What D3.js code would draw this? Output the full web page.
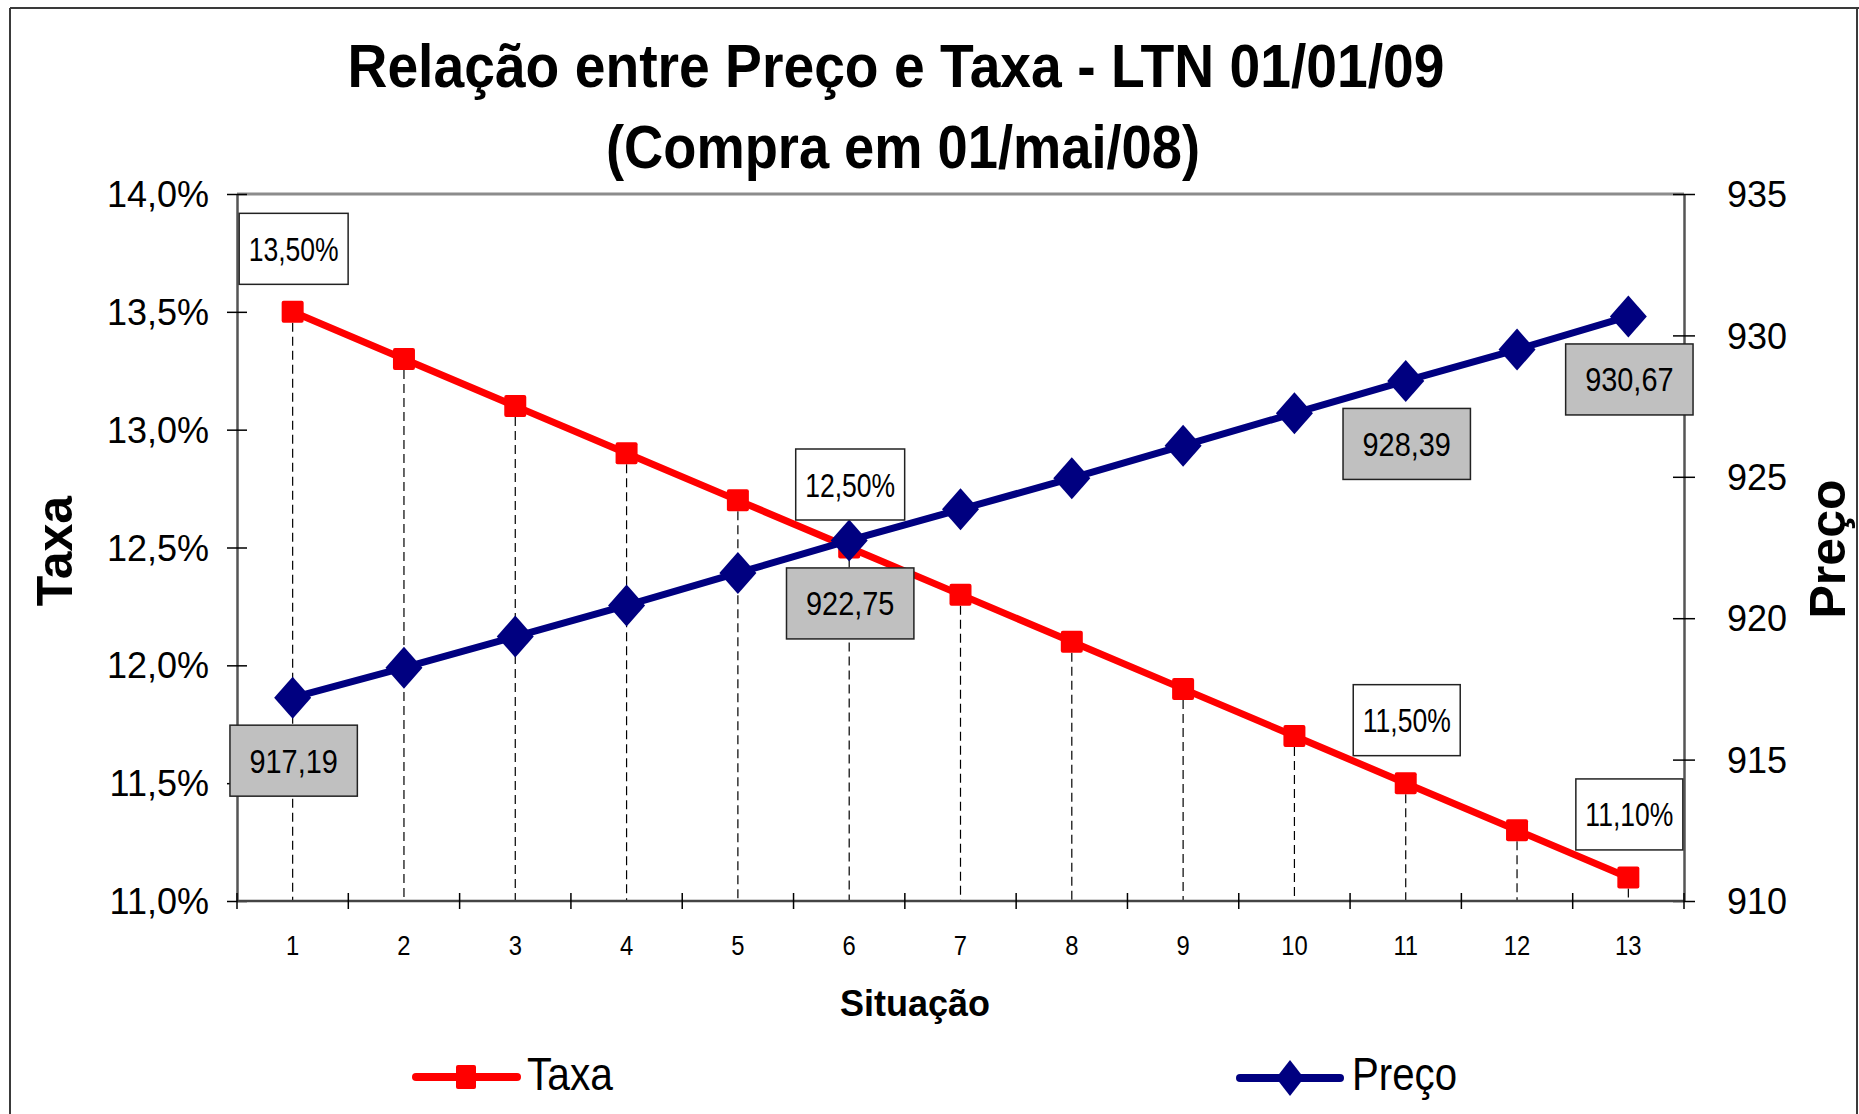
<!DOCTYPE html>
<html>
<head>
<meta charset="utf-8">
<script src="https://cdn.jsdelivr.net/npm/d3@7/dist/d3.min.js"></script>
<style>
  html, body { margin: 0; padding: 0; background: #fff; }
  svg { display: block; font-family: "Liberation Sans", Arial, sans-serif; }
</style>
</head>
<body>
<svg id="chart" width="1859" height="1114"></svg>
<script>
// ---------------- DATA ----------------
const categories = [1, 2, 3, 4, 5, 6, 7, 8, 9, 10, 11, 12, 13];
const taxa  = [13.5, 13.3, 13.1, 12.9, 12.7, 12.5, 12.3, 12.1, 11.9, 11.7, 11.5, 11.3, 11.1];
const preco = [917.19, 918.25, 919.35, 920.45, 921.6, 922.75, 923.85, 924.95, 926.1, 927.25, 928.39, 929.5, 930.67];
const taxaLabelIdx = [0, 5, 10, 12];
const taxaLabelTxt = ["13,50%", "12,50%", "11,50%", "11,10%"];
const precoLabelIdx = [0, 5, 10, 12];
const precoLabelTxt = ["917,19", "922,75", "928,39", "930,67"];
const taxaTicks = [11.0, 11.5, 12.0, 12.5, 13.0, 13.5, 14.0];
const precoTicks = [910, 915, 920, 925, 930, 935];
const titleLines = ["Relação entre Preço e Taxa - LTN 01/01/09", "(Compra em 01/mai/08)"];
const xTitle = "Situação";
const yLeftTitle = "Taxa";
const yRightTitle = "Preço";
const seriesNames = ["Taxa", "Preço"];

// ---------------- LAYOUT ----------------
const W = 1859, H = 1114;
const plot = { left: 237, right: 1684, top: 194, bottom: 901 };
const RED = "#FF0000", NAVY = "#000080";

const svg = d3.select("#chart");

const x = d3.scaleBand().domain(categories).range([plot.left, plot.right]).padding(0);
const xc = d => x(d) + x.bandwidth() / 2;
const yL = d3.scaleLinear().domain([11, 14]).range([plot.bottom, plot.top]);
const yR = d3.scaleLinear().domain([910, 935]).range([plot.bottom, plot.top]);

const fmtPct = v => v.toFixed(1).replace(".", ",") + "%";

// outer frame
const frame = svg.append("g").attr("stroke", "#3a3a3a").attr("stroke-width", 2);
frame.append("line").attr("x1", 10).attr("x2", W).attr("y1", 8).attr("y2", 8);
frame.append("line").attr("x1", 10).attr("x2", 10).attr("y1", 8).attr("y2", H);
frame.append("line").attr("x1", W - 2).attr("x2", W - 2).attr("y1", 8).attr("y2", H);

// titles
const tl = svg.append("g").attr("font-weight", "bold").attr("fill", "#000").attr("text-anchor", "middle");
tl.append("text").attr("x", 896).attr("y", 87).attr("font-size", 61)
  .attr("textLength", 1097).attr("lengthAdjust", "spacingAndGlyphs").text(titleLines[0]);
tl.append("text").attr("x", 903).attr("y", 168).attr("font-size", 61)
  .attr("textLength", 594).attr("lengthAdjust", "spacingAndGlyphs").text(titleLines[1]);

// plot area border (top)
svg.append("line").attr("x1", plot.left).attr("x2", plot.right)
  .attr("y1", plot.top).attr("y2", plot.top)
  .attr("stroke", "#8c8c8c").attr("stroke-width", 3);

// drop lines (from Taxa points down to category axis)
svg.append("g").selectAll("line").data(categories).join("line")
  .attr("x1", d => xc(d)).attr("x2", d => xc(d))
  .attr("y1", (d, i) => yL(taxa[i]) + 11).attr("y2", plot.bottom)
  .attr("stroke", "#000").attr("stroke-width", 1.2).attr("stroke-dasharray", "9,5");

// left axis
const axL = svg.append("g").attr("transform", `translate(${plot.left},0)`)
  .call(d3.axisLeft(yL).tickValues(taxaTicks).tickFormat(fmtPct).tickSizeOuter(0));
axL.select(".domain").attr("stroke", "#555").attr("stroke-width", 2.5);
axL.selectAll(".tick line").attr("x1", -10).attr("x2", 10).attr("stroke", "#000").attr("stroke-width", 1.5);
axL.selectAll(".tick text").attr("x", -28).attr("dy", "0.35em")
  .attr("font-size", 36).attr("font-family", "Liberation Sans, Arial, sans-serif").attr("fill", "#000");

// right axis
const axR = svg.append("g").attr("transform", `translate(${plot.right},0)`)
  .call(d3.axisRight(yR).tickValues(precoTicks).tickFormat(d3.format("d")).tickSizeOuter(0));
axR.select(".domain").attr("stroke", "#555").attr("stroke-width", 2.5);
axR.selectAll(".tick line").attr("x1", -11).attr("x2", 11).attr("stroke", "#000").attr("stroke-width", 1.5);
axR.selectAll(".tick text").attr("x", 43).attr("dy", "0.35em")
  .attr("font-size", 36).attr("font-family", "Liberation Sans, Arial, sans-serif").attr("fill", "#000");

// bottom axis
svg.append("line").attr("x1", plot.left).attr("x2", plot.right)
  .attr("y1", plot.bottom).attr("y2", plot.bottom)
  .attr("stroke", "#444").attr("stroke-width", 2.5);
const bounds = categories.map(d => x(d)).concat([plot.right]);
svg.append("g").selectAll("line").data(bounds).join("line")
  .attr("x1", d => d).attr("x2", d => d)
  .attr("y1", plot.bottom - 8).attr("y2", plot.bottom + 8)
  .attr("stroke", "#000").attr("stroke-width", 1.5);
svg.append("g").selectAll("text").data(categories).join("text")
  .attr("x", d => xc(d)).attr("y", 955)
  .attr("text-anchor", "middle").attr("font-size", 28)
  .attr("transform", d => `translate(${xc(d)},0) scale(0.85,1) translate(${-xc(d)},0)`)
  .text(d => d);

// axis titles
svg.append("text").attr("x", 915).attr("y", 1016).attr("text-anchor", "middle")
  .attr("font-size", 36).attr("font-weight", "bold").text(xTitle);
svg.append("text").attr("transform", "translate(72,551) rotate(-90)")
  .attr("text-anchor", "middle").attr("font-size", 50).attr("font-weight", "bold").text(yLeftTitle);
svg.append("text").attr("transform", "translate(1845,549) rotate(-90)")
  .attr("text-anchor", "middle").attr("font-size", 50).attr("font-weight", "bold").text(yRightTitle);

// series lines
const lineT = d3.line().x((d, i) => xc(categories[i])).y(d => yL(d));
const lineP = d3.line().x((d, i) => xc(categories[i])).y(d => yR(d));
svg.append("path").datum(taxa).attr("d", lineT).attr("fill", "none")
  .attr("stroke", RED).attr("stroke-width", 7).attr("stroke-linejoin", "round");
svg.append("path").datum(preco).attr("d", lineP).attr("fill", "none")
  .attr("stroke", NAVY).attr("stroke-width", 7).attr("stroke-linejoin", "round");

// markers
const SQ = 22, DW = 37, DH = 42;
svg.append("g").selectAll("rect").data(taxa).join("rect")
  .attr("x", (d, i) => xc(categories[i]) - SQ / 2).attr("y", d => yL(d) - SQ / 2)
  .attr("width", SQ).attr("height", SQ).attr("rx", 2).attr("fill", RED);
const diamond = (cx, cy, w, h) => `M${cx},${cy - h / 2}L${cx + w / 2},${cy}L${cx},${cy + h / 2}L${cx - w / 2},${cy}Z`;
svg.append("g").selectAll("path").data(preco).join("path")
  .attr("d", (d, i) => diamond(xc(categories[i]), yR(d), DW, DH)).attr("fill", NAVY);

// data labels
function addLabel(cx, cy, txt, fill, pad, squeeze) {
  const g = svg.append("g");
  const rect = g.append("rect").attr("fill", fill).attr("stroke", "#222").attr("stroke-width", 1.5);
  const t = g.append("text").attr("x", cx).attr("y", cy + 12).attr("text-anchor", "middle")
    .attr("font-size", 34).attr("fill", "#000").text(txt);
  const tw = t.node().getComputedTextLength() * squeeze;
  t.attr("textLength", tw).attr("lengthAdjust", "spacingAndGlyphs");
  const bw = tw + pad, bh = 71;
  rect.attr("x", cx - bw / 2).attr("y", cy - bh / 2).attr("width", bw).attr("height", bh);
}
taxaLabelIdx.forEach((idx, k) => {
  addLabel(xc(categories[idx]) + 1, yL(taxa[idx]) - 63, taxaLabelTxt[k], "#fff", 19, 0.78);
});
precoLabelIdx.forEach((idx, k) => {
  addLabel(xc(categories[idx]) + 1, yR(preco[idx]) + 63, precoLabelTxt[k], "#C0C0C0", 39, 0.85);
});

// legend
const leg = svg.append("g");
leg.append("line").attr("x1", 416).attr("x2", 517).attr("y1", 1077).attr("y2", 1077)
  .attr("stroke", RED).attr("stroke-width", 8).attr("stroke-linecap", "round");
leg.append("rect").attr("x", 466 - 10).attr("y", 1077 - 12).attr("width", 20).attr("height", 24)
  .attr("rx", 2).attr("fill", RED);
leg.append("text").attr("x", 527).attr("y", 1090).attr("font-size", 46)
  .attr("textLength", 86).attr("lengthAdjust", "spacingAndGlyphs").text(seriesNames[0]);
leg.append("line").attr("x1", 1240).attr("x2", 1340).attr("y1", 1078).attr("y2", 1078)
  .attr("stroke", NAVY).attr("stroke-width", 8).attr("stroke-linecap", "round");
leg.append("path").attr("d", diamond(1290, 1078, 28, 36)).attr("fill", NAVY);
leg.append("text").attr("x", 1352).attr("y", 1090).attr("font-size", 46)
  .attr("textLength", 105).attr("lengthAdjust", "spacingAndGlyphs").text(seriesNames[1]);
</script>
</body>
</html>
